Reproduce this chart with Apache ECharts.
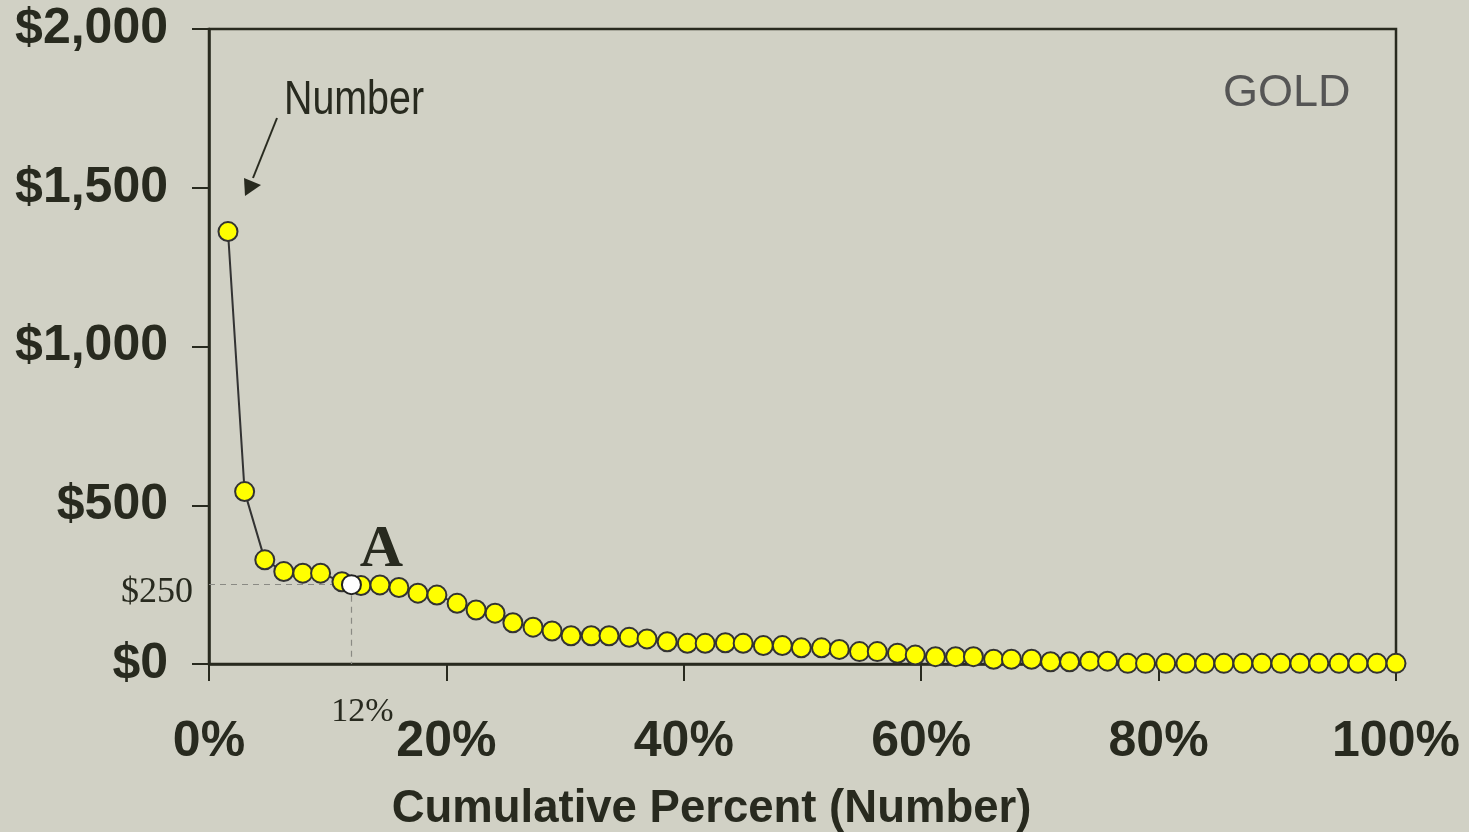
<!DOCTYPE html>
<html>
<head>
<meta charset="utf-8">
<script src="https://cdn.jsdelivr.net/npm/echarts@6/dist/echarts.min.js"></script>
<style>
html,body{margin:0;padding:0;background:#d1d1c5;}
#chart{width:1469px;height:832px;}
</style>
</head>
<body>
<div id="chart"></div>
<script>
// Cumulative percent (number) for each point
var cumPercent = [1.6, 3.0, 4.7, 6.3, 7.9, 9.4, 11.2, 12.8, 14.4, 16.0,
  17.6, 19.2, 20.9, 22.5, 24.1, 25.6, 27.3, 28.9, 30.5, 32.2,
  33.7, 35.4, 36.9, 38.6, 40.3, 41.8, 43.5, 45.0, 46.7, 48.3,
  49.9, 51.6, 53.1, 54.8, 56.3, 58.0, 59.5, 61.2, 62.9, 64.4,
  66.1, 67.6, 69.3, 70.9, 72.5, 74.2, 75.7, 77.4, 78.9, 80.6,
  82.3, 83.9, 85.5, 87.1, 88.7, 90.3, 91.9, 93.5, 95.2, 96.8, 98.4, 100];
// Dollar value for each point
var dollarValues = [1362, 543, 328, 291, 286, 286, 259, 247, 249, 241,
  223, 217, 191, 170, 160, 130, 116, 104, 89, 89,
  89, 84, 79, 70, 65, 65, 67, 65, 58, 58,
  51, 51, 46, 39, 39, 34, 28, 23, 23, 23,
  15, 15, 15, 7, 7, 9, 9, 2, 2, 2,
  2, 2, 2, 2, 2, 2, 2, 2, 2, 2, 2, 2];
// Highlighted point A
var pointA = [12, 250];
var xTicks = [0, 20, 40, 60, 80, 100];
var yTicks = [0, 500, 1000, 1500, 2000];

var seriesData = cumPercent.map(function (x, i) { return [x, dollarValues[i]]; });
var dark = '#282a1f';

var chart = echarts.init(document.getElementById('chart'));
var option = {
  backgroundColor: '#d1d1c5',
  animation: false,
  grid: { left: 209, top: 29, right: 73, bottom: 168, outerBoundsMode: 'none', containLabel: false,
    show: true, borderColor: dark, borderWidth: 2.5, backgroundColor: 'transparent' },
  xAxis: {
    type: 'value', min: 0, max: 100, interval: 20,
    name: 'Cumulative Percent (Number)', nameLocation: 'middle', nameGap: 122,
    nameTextStyle: { fontFamily: 'Liberation Sans, Arial', fontWeight: 'bold', fontSize: 45.5, color: dark, verticalAlign: 'top', padding: [0, 182, 0, 0] },
    axisLine: { show: true, lineStyle: { color: dark, width: 2.5 } },
    axisTick: { show: true, length: 17, lineStyle: { color: dark, width: 2 } },
    splitLine: { show: false },
    axisLabel: { margin: 53, fontFamily: 'Liberation Sans, Arial', fontWeight: 'bold', fontSize: 50, color: dark,
      formatter: function (v) { return xTicks.indexOf(v) >= 0 ? v + '%' : ''; } }
  },
  yAxis: {
    type: 'value', min: 0, max: 2000, interval: 500,
    axisLine: { show: true, lineStyle: { color: dark, width: 2.5 } },
    axisTick: { show: true, length: 17, lineStyle: { color: dark, width: 2 } },
    splitLine: { show: false },
    axisLabel: { margin: 41, fontFamily: 'Liberation Sans, Arial', fontWeight: 'bold', fontSize: 50, color: dark,
      formatter: function (v) { return yTicks.indexOf(v) >= 0 ? '$' + v.toLocaleString('en-US') : ''; } }
  },
  series: [
    {
      type: 'line', data: seriesData, symbol: 'circle', symbolSize: 19, z: 3,
      lineStyle: { color: '#333333', width: 2 },
      itemStyle: { color: '#ffff00', borderColor: '#333333', borderWidth: 2 },
      markLine: {
        silent: true, symbol: 'none', z: 1,
        lineStyle: { type: [6, 5], color: '#8a8a84', width: 1.2 },
        label: { show: false },
        data: [
          [{ coord: [0, pointA[1]] }, { coord: pointA }],
          [{ coord: pointA }, { coord: [pointA[0], 0] }]
        ]
      }
    },
    {
      type: 'scatter', data: [pointA], symbol: 'circle', symbolSize: 19, z: 5,
      itemStyle: { color: '#ffffff', borderColor: '#222222', borderWidth: 2, opacity: 1 },
      label: { show: true, formatter: 'A', position: 'inside', offset: [30, -34], opacity: 1,
        fontFamily: 'Liberation Serif, Times New Roman, serif', fontWeight: 'bold', fontSize: 60, color: dark }
    }
  ]
};
chart.setOption(option);

var pA = chart.convertToPixel({ gridIndex: 0 }, pointA);
var p0 = chart.convertToPixel({ gridIndex: 0 }, [0, 0]);
chart.setOption({
  graphic: [
    { type: 'text', left: 1223, top: 71, style: { text: 'GOLD', fontFamily: 'Liberation Sans, Arial', fontSize: 45, fill: '#555555' } },
    { type: 'text', x: 284, y: 77, scaleX: 0.82, style: { text: 'Number', fontFamily: 'Liberation Sans, Arial', fontSize: 48, fill: dark } },
    { type: 'line', shape: { x1: 277, y1: 118, x2: 253, y2: 178 }, style: { stroke: dark, lineWidth: 2 } },
    { type: 'polygon', shape: { points: [[245, 196], [261, 185], [244, 178]] }, style: { fill: dark } },
    { type: 'text', x: p0[0] - 16, y: pA[1] + 8, style: { text: '$250', align: 'right', verticalAlign: 'middle', fontFamily: 'Liberation Serif, Times New Roman, serif', fontSize: 36, fill: dark } },
    { type: 'text', x: pA[0] + 11, y: p0[1] + 48, style: { text: '12%', align: 'center', verticalAlign: 'middle', fontFamily: 'Liberation Serif, Times New Roman, serif', fontSize: 34, fill: dark } }
  ]
});
</script>
</body>
</html>
